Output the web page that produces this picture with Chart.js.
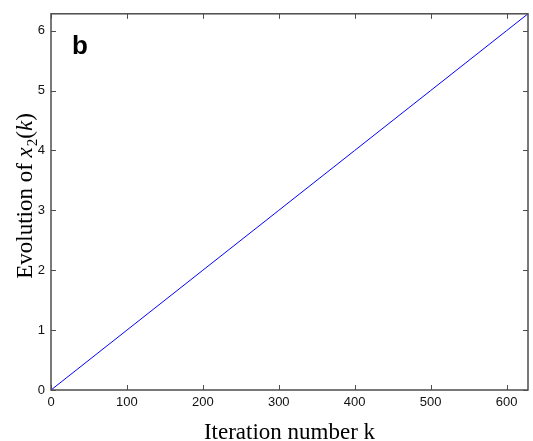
<!DOCTYPE html>
<html>
<head>
<meta charset="utf-8">
<script src="https://cdn.jsdelivr.net/npm/chart.js@4.4.1/dist/chart.umd.min.js"></script>
<style>
  html, body { margin: 0; padding: 0; background: #fff; }
  #wrap { width: 533px; height: 441px; }
</style>
</head>
<body>
<div id="wrap"><canvas id="evo"></canvas></div>
<script>
// iteration k vs x2(k)
iterK = [0, 100, 200, 300, 400, 500, 600, 628.3];
x2Vals = [0, 1, 2, 3, 4, 5, 6, 6.283];
xTickVals = [0, 100, 200, 300, 400, 500, 600];
yTickVals = [0, 1, 2, 3, 4, 5, 6];
panelLabel = "b";

const axisCol = '#4d4d4d';

// box round the plot and inward tick marks on all four sides
const boxTicks = {
    id: 'boxTicks',
    afterDatasetsDraw(chart) {
        const ctx = chart.ctx, a = chart.chartArea;
        const sx = chart.scales.x, sy = chart.scales.y;
        ctx.save();
        ctx.strokeStyle = axisCol;
        ctx.lineWidth = 1;
        ctx.beginPath();
        xTickVals.forEach(v => {
            const px = Math.round(sx.getPixelForValue(v)) + 0.5;
            ctx.moveTo(px, a.bottom); ctx.lineTo(px, a.bottom - 5);
            ctx.moveTo(px, a.top); ctx.lineTo(px, a.top + 5);
        });
        yTickVals.forEach(v => {
            const py = Math.round(sy.getPixelForValue(v)) + 0.5;
            ctx.moveTo(a.left, py); ctx.lineTo(a.left + 5, py);
            ctx.moveTo(a.right, py); ctx.lineTo(a.right - 5, py);
        });
        ctx.stroke();
        ctx.lineWidth = 1.5;
        ctx.strokeRect(a.left, a.top, a.right - a.left, a.bottom - a.top);

        // panel letter
        ctx.fillStyle = '#000';
        ctx.font = 'bold 26px "Liberation Sans", Arial, sans-serif';
        ctx.textBaseline = 'alphabetic';
        ctx.fillText(panelLabel, a.left + 21, a.top + 40);

        // y title with math italics: Evolution of x_2(k)
        ctx.translate(32, 196);
        ctx.rotate(-Math.PI / 2);
        const serif = '"Liberation Serif", serif';
        const parts = [
            ['Evolution of ', '23px ' + serif, 0],
            ['x', 'italic 23px ' + serif, 0],
            ['2', '15px ' + serif, 5],
            ['(', '23px ' + serif, 0],
            ['k', 'italic 23px ' + serif, 0],
            [')', '23px ' + serif, 0]
        ];
        let total = 0;
        parts.forEach(p => { ctx.font = p[1]; total += ctx.measureText(p[0]).width + (p[0] === 'x' ? 1 : 0); });
        let cx = -total / 2;
        ctx.textBaseline = 'alphabetic';
        parts.forEach(p => {
            ctx.font = p[1];
            ctx.fillText(p[0], cx, p[2]);
            cx += ctx.measureText(p[0]).width + (p[0] === 'x' ? 1 : 0);
        });
        ctx.restore();
    }
};

const ctx = document.getElementById('evo');

c = new Chart(ctx, {
    type: 'scatter',
    data: {
        datasets: [{
            data: iterK.map((k, i) => ({ x: k, y: x2Vals[i] })),
            showLine: true,
            borderColor: '#0000ff',
            borderWidth: 1,
            pointRadius: 0,
            tension: 0,
            clip: false
        }]
    },
    options: {
        responsive: true,
        maintainAspectRatio: false,
        animation: false,
        layout: { padding: { top: 13, right: 5, left: 0, bottom: 0 } },
        plugins: { legend: { display: false }, tooltip: { enabled: false } },
        scales: {
            x: {
                type: 'linear',
                min: 0,
                max: 628.3,
                afterBuildTicks: s => { s.ticks = xTickVals.map(v => ({ value: v })); },
                afterFit: s => { s.height = 51; },
                grid: { display: false, drawTicks: false },
                border: { display: false },
                ticks: {
                    padding: 5,
                    color: '#111',
                    font: { family: '"Liberation Sans", Arial, sans-serif', size: 13 },
                    maxRotation: 0,
                    autoSkip: false
                },
                title: {
                    display: true,
                    text: 'Iteration number k',
                    color: '#000',
                    font: { family: '"Liberation Serif", serif', size: 23, lineHeight: 1 },
                    padding: { top: 4, bottom: -3 }
                }
            },
            y: {
                type: 'linear',
                min: 0,
                max: 6.283,
                afterBuildTicks: s => { s.ticks = yTickVals.map(v => ({ value: v })); },
                afterFit: s => { s.width = 51; },
                grid: { display: false, drawTicks: false },
                border: { display: false },
                ticks: {
                    padding: 6,
                    color: '#111',
                    font: { family: '"Liberation Sans", Arial, sans-serif', size: 13 },
                    autoSkip: false
                }
            }
        }
    },
    plugins: [boxTicks]
});
</script>
</body>
</html>
